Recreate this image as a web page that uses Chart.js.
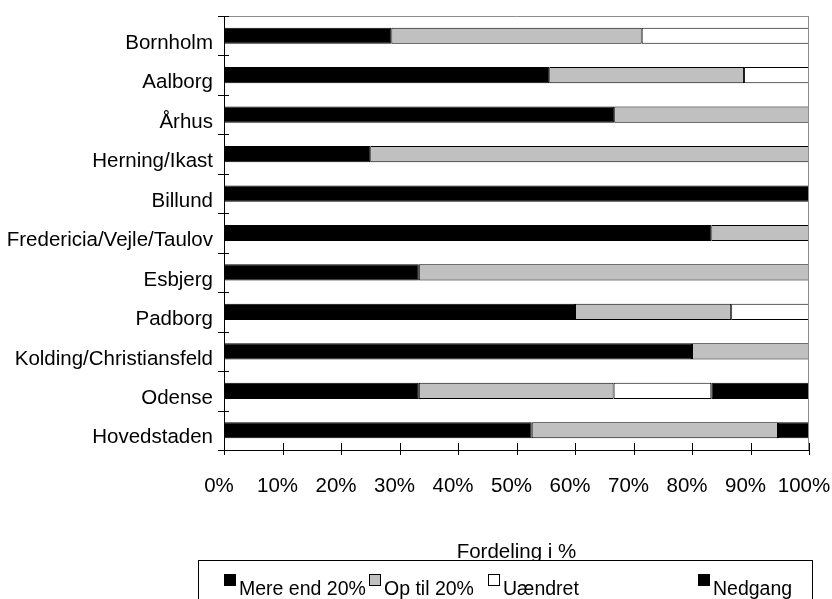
<!DOCTYPE html>
<html>
<head>
<meta charset="utf-8">
<script src="https://cdn.jsdelivr.net/npm/chart.js@4/dist/chart.umd.min.js"></script>
<style>
html,body{margin:0;padding:0;background:#fff;}
#wrap{width:832px;height:599px;}
</style>
</head>
<body>
<div id="wrap"><canvas id="c" width="832" height="599"></canvas></div>
<script>
const categories = ["Bornholm","Aalborg","Århus","Herning/Ikast","Billund","Fredericia/Vejle/Taulov","Esbjerg","Padborg","Kolding/Christiansfeld","Odense","Hovedstaden"];
const seriesNames = ["Mere end 20%","Op til 20%","Uændret","Nedgang"];
const mereEnd20 = [28.6, 55.6, 66.7, 25.0, 100, 83.3, 33.3, 60.0, 80.0, 33.3, 52.6];
const opTil20   = [42.8, 33.3, 33.3, 75.0, 0, 16.7, 66.7, 26.7, 20.0, 33.3, 42.1];
const uaendret  = [28.6, 11.1, 0, 0, 0, 0, 0, 13.3, 0, 16.7, 0];
const nedgang   = [0, 0, 0, 0, 0, 0, 0, 0, 0, 16.7, 5.3];
const xTicks = [0,10,20,30,40,50,60,70,80,90,100];
const axisTitle = "Fordeling i %";
const colors = ["#000000","#c0c0c0","#ffffff","#000000"];

const FONT = "Liberation Sans, Arial, sans-serif";
const FS = 20.5;

const decor = {
  id: 'decor',
  afterDatasetsDraw(chart) {
    const ctx = chart.ctx, a = chart.chartArea;
    const ys = chart.scales.y, xs = chart.scales.x;
    ctx.save();
    ctx.strokeStyle = '#8c8c8c'; ctx.lineWidth = 1;
    ctx.beginPath();
    ctx.moveTo(a.left, Math.round(a.top)+0.5); ctx.lineTo(a.right, Math.round(a.top)+0.5);
    ctx.moveTo(Math.round(a.right)-0.5, a.top); ctx.lineTo(Math.round(a.right)-0.5, a.bottom);
    ctx.stroke();
    ctx.strokeStyle = '#000';
    ctx.beginPath();
    const band = ys.getPixelForValue(1) - ys.getPixelForValue(0);
    for (let i = 0; i <= categories.length; i++) {
      const y = Math.round(ys.getPixelForValue(i) - band/2) + 0.5;
      ctx.moveTo(a.left - 6, y); ctx.lineTo(a.left + 5, y);
    }
    xTicks.forEach(v => {
      const x = Math.round(xs.getPixelForValue(v)) + 0.5;
      ctx.moveTo(x, a.bottom - 7); ctx.lineTo(x, a.bottom + 5);
    });
    ctx.stroke();
    ctx.restore();
  },
  afterDraw(chart) {
    const ctx = chart.ctx, a = chart.chartArea;
    ctx.save();
    ctx.font = FS + 'px ' + FONT;
    ctx.fillStyle = '#000';
    ctx.textBaseline = 'alphabetic';
    ctx.textAlign = 'center';
    ctx.fillText(axisTitle, (a.left + a.right) / 2, 558);
    ctx.fillStyle = '#fff';
    ctx.fillRect(198, 560, 615, 60);
    ctx.strokeStyle = '#000'; ctx.lineWidth = 1;
    ctx.strokeRect(198.5, 560.5, 614, 60);
    const xs = [224, 369, 488, 698];
    ctx.font = '19.5px ' + FONT;
    ctx.textAlign = 'left';
    chart.data.datasets.forEach((ds, i) => {
      const x = xs[i];
      ctx.fillStyle = ds.backgroundColor;
      ctx.fillRect(x, 574, 12, 12);
      ctx.strokeStyle = '#000';
      ctx.strokeRect(x + 0.5, 574.5, 11, 11);
      ctx.fillStyle = '#000';
      ctx.fillText(ds.label, x + 15, 595);
    });
    ctx.restore();
  }
};

const datasets = [mereEnd20, opTil20, uaendret, nedgang].map((d, i) => ({
  label: seriesNames[i],
  data: d,
  backgroundColor: colors[i],
  borderColor: '#000',
  borderWidth: c => (c.raw ? 1 : 0),
  borderSkipped: false,
  categoryPercentage: 1,
  barPercentage: 0.41
}));

new Chart(document.getElementById('c'), {
  type: 'bar',
  data: { labels: categories, datasets },
  options: {
    indexAxis: 'y',
    responsive: false,
    animation: false,
    devicePixelRatio: 1,
    layout: { padding: { top: 16, right: 23, bottom: 89, left: 0 } },
    plugins: { legend: { display: false }, tooltip: { enabled: false } },
    scales: {
      x: {
        stacked: true, min: 0, max: 100,
        grid: { display: false, drawTicks: false },
        border: { display: true, color: '#000', width: 1 },
        afterBuildTicks: s => { s.ticks = xTicks.map(v => ({ value: v })); },
        afterFit: s => { s.height = 60; s.paddingLeft = 0; s.paddingRight = 0; },
        ticks: {
          callback: v => v + '%',
          color: '#000', font: { family: FONT, size: FS },
          padding: 24, labelOffset: -5, maxRotation: 0, autoSkip: false
        }
      },
      y: {
        stacked: true,
        grid: { display: false, drawTicks: false },
        border: { display: true, color: '#000', width: 1 },
        afterFit: s => { s.width = 224; s.paddingTop = 0; s.paddingBottom = 0; },
        ticks: {
          color: '#000', font: { family: FONT, size: FS },
          padding: 11, labelOffset: 7.5, autoSkip: false
        }
      }
    }
  },
  plugins: [decor]
});
</script>
</body>
</html>
